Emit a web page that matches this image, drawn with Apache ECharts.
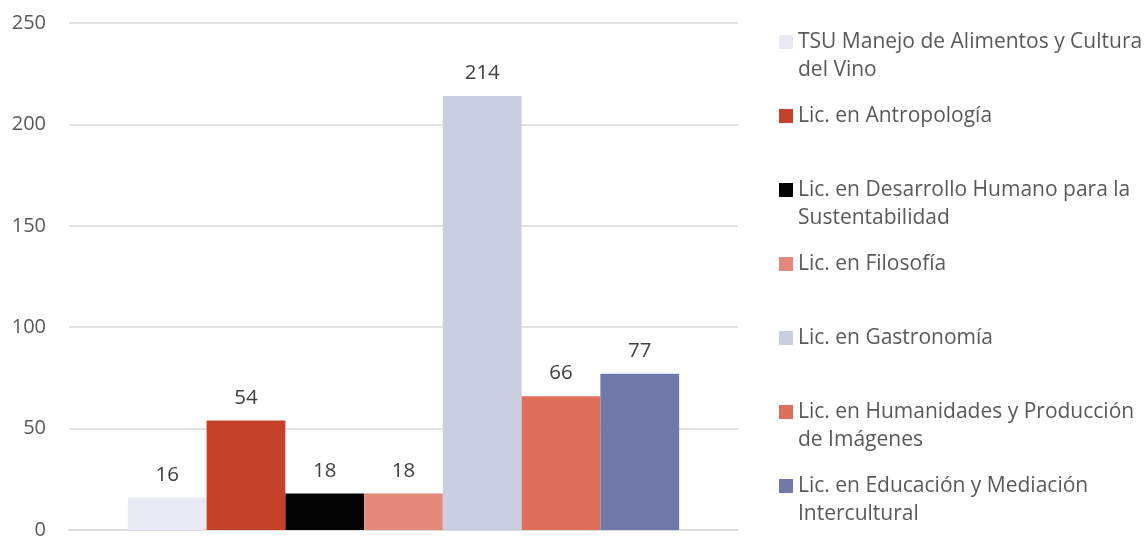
<!DOCTYPE html>
<html>
<head>
<meta charset="utf-8">
<script src="https://cdn.jsdelivr.net/npm/echarts@6/dist/echarts.min.js"></script>
<style>
  html, body { margin: 0; padding: 0; background: #fff; }
  #chart { width: 1148px; height: 540px; }
</style>
</head>
<body>
<div id="chart"></div>
<script>
// data
const categories = [''];
const programas = [
  'TSU Manejo de Alimentos y Cultura del Vino',
  'Lic. en Antropología',
  'Lic. en Desarrollo Humano para la Sustentabilidad',
  'Lic. en Filosofía',
  'Lic. en Gastronomía',
  'Lic. en Humanidades y Producción de Imágenes',
  'Lic. en Educación y Mediación Intercultural'
];
const alumnos = [16, 54, 18, 18, 214, 66, 77];
const yTicks = [0, 50, 100, 150, 200, 250];

// how the legend wraps each name
const legendLines = [
  ['TSU Manejo de Alimentos y Cultura', 'del Vino'],
  ['Lic. en Antropología'],
  ['Lic. en Desarrollo Humano para la', 'Sustentabilidad'],
  ['Lic. en Filosofía'],
  ['Lic. en Gastronomía'],
  ['Lic. en Humanidades y Producción', 'de Imágenes'],
  ['Lic. en Educación y Mediación', 'Intercultural']
];

const palette = ['#E8E9F3', '#C5412A', '#040404', '#E3897C', '#CACEE1', '#DE6F5A', '#7178AA'];

const FONT = '"Open Sans", "Liberation Sans", sans-serif';
const TXT = '#595959';
const LINE_H = 28;
const BOX = 14;

const chart = echarts.init(document.getElementById('chart'));

// one legend per entry so the icons sit on an even 74px step like the original.
// for wrapped names the icon box is made taller with the square kept at the top,
// so it lines up with the first line of text (Excel style)
const legends = programas.map((name, i) => {
  const lines = legendLines[i];
  const centre = 41.5 + 74.1 * i;
  const h = BOX + LINE_H * (lines.length - 1);
  const icon = lines.length > 1
    ? 'path://M0,0H' + BOX + 'V' + BOX + 'H0Z M0,' + h + 'H0.001V' + (h - 0.001) + 'H0Z'
    : 'rect';
  return {
    data: [name],
    orient: 'vertical',
    left: 779,
    top: Math.round(centre - LINE_H / 2),
    padding: 0,
    icon: icon,
    itemWidth: BOX,
    itemHeight: h,
    selectedMode: false,
    formatter: () => lines.join('\n'),
    textStyle: {
      color: TXT,
      fontFamily: FONT,
      fontSize: 21,
      lineHeight: LINE_H
    }
  };
});

chart.setOption({
  animation: false,
  backgroundColor: '#fff',
  grid: { left: 69, right: 410, top: 23, bottom: 7 },
  legend: legends,
  xAxis: {
    type: 'category',
    data: categories,
    axisLine: { lineStyle: { color: '#D9D9D9', width: 1.5 } },
    axisTick: { show: false },
    axisLabel: { show: false }
  },
  yAxis: {
    type: 'value',
    min: yTicks[0],
    max: yTicks[yTicks.length - 1],
    interval: yTicks[1] - yTicks[0],
    axisLine: { show: false },
    axisTick: { show: false },
    axisLabel: { color: TXT, fontFamily: FONT, fontSize: 20, margin: 23 },
    splitLine: { lineStyle: { color: '#D9D9D9', width: 1.5 } }
  },
  series: programas.map((name, i) => ({
    name: name,
    type: 'bar',
    data: [alumnos[i]],
    barGap: 0,
    barCategoryGap: '17.6%',
    itemStyle: { color: palette[i] },
    label: {
      show: true,
      position: 'top',
      distance: 12,
      color: '#404040',
      fontFamily: FONT,
      fontSize: 20.5
    }
  }))
});
</script>
</body>
</html>
